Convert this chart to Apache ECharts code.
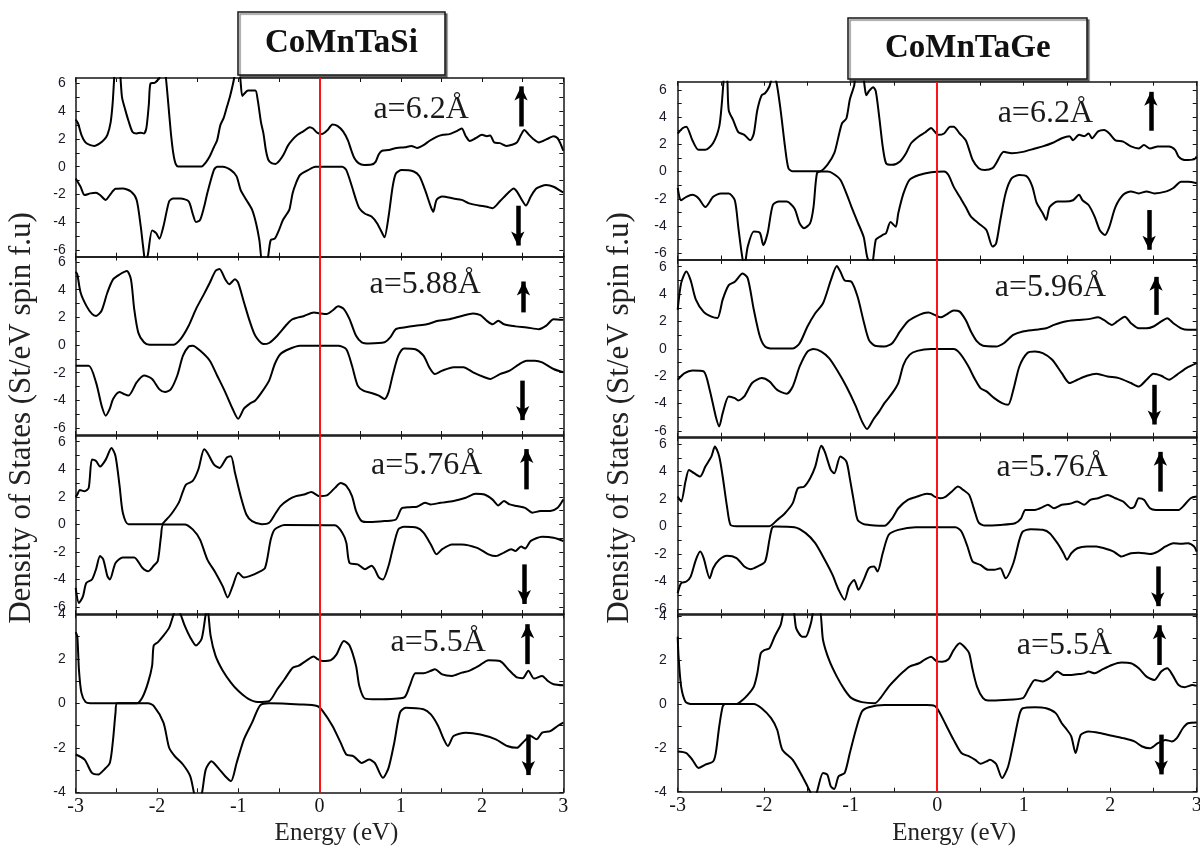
<!DOCTYPE html>
<html>
<head>
<meta charset="utf-8">
<script src="https://cdn.jsdelivr.net/npm/echarts@6/dist/echarts.min.js"></script>
<style>
  html, body { margin: 0; padding: 0; background: #fff; }
  #chart { width: 1200px; height: 854px; }
</style>
</head>
<body>
<div id="chart"></div>
<script>
// ---- Spin-resolved DOS, CoMnTaSi: [energy (eV), DOS (states/eV spin f.u.)] ----
const siA62Up = [[-3.0,3.4],[-2.97,3.1],[-2.93,2.3],[-2.88,1.75],[-2.82,1.55],[-2.77,1.5],[-2.7,1.7],[-2.65,1.95],[-2.61,2.3],[-2.57,3.2],[-2.545,4.6],[-2.525,6.5],[-2.49,9],[-2.45,6.5],[-2.43,5.0],[-2.39,4.1],[-2.35,3.3],[-2.3,2.5],[-2.25,2.4],[-2.2,2.45],[-2.16,2.4],[-2.13,2.8],[-2.1,4.5],[-2.08,6.0],[-2.03,6.05],[-2.0,6.2],[-1.97,6.4],[-1.93,8],[-1.89,6.4],[-1.86,4.5],[-1.83,2.5],[-1.8,1.0],[-1.77,0.2],[-1.74,0.02],[-1.45,0.02],[-1.4,0.3],[-1.35,0.75],[-1.3,1.4],[-1.26,1.9],[-1.22,3.0],[-1.18,3.5],[-1.14,4.3],[-1.1,5.1],[-1.05,6.4],[-1.01,8],[-0.975,6.4],[-0.95,5.1],[-0.92,5.3],[-0.88,5.5],[-0.79,5.5],[-0.76,4.8],[-0.72,3.2],[-0.69,2.4],[-0.66,1.2],[-0.63,0.5],[-0.59,0.25],[-0.54,0.2],[-0.49,0.45],[-0.44,0.9],[-0.39,1.5],[-0.34,1.9],[-0.27,2.3],[-0.2,2.55],[-0.12,2.85],[-0.08,2.75],[-0.03,2.45],[0.03,2.35],[0.1,2.65],[0.16,3.05],[0.22,2.95],[0.29,2.55],[0.35,1.9],[0.39,1.2],[0.43,0.6],[0.48,0.25],[0.55,0.12],[0.64,0.15],[0.69,0.35],[0.73,0.9],[0.77,1.15],[0.85,1.2],[0.95,1.35],[1.05,1.4],[1.13,1.5],[1.2,1.35],[1.28,1.55],[1.35,1.85],[1.44,2.15],[1.52,2.3],[1.6,2.35],[1.68,2.55],[1.75,2.75],[1.8,2.2],[1.85,1.85],[1.92,2.05],[2.0,2.3],[2.06,2.2],[2.1,2.25],[2.15,1.75],[2.22,1.7],[2.3,1.5],[2.38,1.6],[2.43,1.75],[2.48,2.3],[2.52,2.65],[2.57,2.35],[2.63,2.0],[2.7,1.75],[2.75,1.85],[2.82,2.05],[2.88,2.2],[2.93,2.05],[2.97,1.6],[3.0,1.15]];
const siA62Dn = [[-3.0,-0.85],[-2.94,-1.45],[-2.89,-2.05],[-2.82,-1.93],[-2.75,-1.88],[-2.7,-2.05],[-2.63,-2.4],[-2.58,-2.05],[-2.51,-1.6],[-2.42,-1.57],[-2.32,-1.8],[-2.25,-2.4],[-2.2,-4.3],[-2.17,-5.8],[-2.14,-7],[-2.11,-6.3],[-2.06,-4.6],[-2.01,-4.8],[-1.97,-5.2],[-1.92,-4.3],[-1.85,-2.5],[-1.8,-2.3],[-1.71,-2.3],[-1.61,-2.5],[-1.56,-3.4],[-1.52,-4.0],[-1.47,-3.85],[-1.42,-2.9],[-1.38,-1.9],[-1.3,-0.25],[-1.26,0],[-1.19,0],[-1.09,-0.25],[-1.02,-0.7],[-0.97,-1.7],[-0.9,-2.4],[-0.83,-3.1],[-0.78,-4.1],[-0.74,-5.3],[-0.7,-7],[-0.65,-7],[-0.63,-6.4],[-0.6,-5.3],[-0.55,-5.2],[-0.5,-4.6],[-0.45,-3.85],[-0.4,-3.4],[-0.37,-3.1],[-0.33,-1.9],[-0.29,-1.2],[-0.24,-0.6],[-0.14,-0.25],[-0.05,0],[0.28,0],[0.33,-0.25],[0.4,-1.45],[0.45,-2.4],[0.49,-3.0],[0.56,-3.4],[0.64,-3.6],[0.71,-4.1],[0.78,-4.9],[0.8,-5.1],[0.85,-3.6],[0.9,-1.45],[0.94,-0.5],[1.01,-0.25],[1.16,-0.35],[1.23,-0.7],[1.3,-1.7],[1.37,-2.9],[1.4,-3.25],[1.44,-2.4],[1.51,-2.15],[1.65,-2.3],[1.75,-2.4],[1.84,-2.65],[1.96,-2.8],[2.06,-2.9],[2.13,-3.0],[2.22,-2.5],[2.32,-1.9],[2.39,-1.57],[2.43,-1.8],[2.5,-2.5],[2.54,-2.8],[2.6,-2.15],[2.67,-1.57],[2.79,-1.33],[2.88,-1.45],[2.98,-1.8],[3.0,-1.85]];
const siA588Up = [[-3.0,5.3],[-2.98,5.1],[-2.94,3.8],[-2.87,2.85],[-2.8,2.25],[-2.75,2.1],[-2.68,2.5],[-2.61,3.8],[-2.54,4.75],[-2.46,5.1],[-2.37,5.35],[-2.32,4.75],[-2.28,2.6],[-2.23,0.9],[-2.16,0.2],[-2.09,0.02],[-1.8,0.02],[-1.71,0.43],[-1.61,1.4],[-1.52,2.6],[-1.42,3.7],[-1.35,4.5],[-1.28,5.35],[-1.23,5.5],[-1.16,4.75],[-1.11,4.4],[-1.04,4.75],[-1.0,4.5],[-0.93,3.1],[-0.86,1.75],[-0.79,0.67],[-0.69,0.07],[-0.62,0.15],[-0.52,0.67],[-0.4,1.5],[-0.33,1.87],[-0.19,2.1],[-0.07,2.35],[0.0,2.3],[0.09,2.25],[0.16,2.5],[0.23,2.8],[0.3,2.6],[0.37,1.87],[0.45,0.67],[0.52,0.2],[0.61,0.12],[0.8,0.2],[0.87,0.55],[0.94,1.15],[1.04,1.27],[1.18,1.4],[1.32,1.5],[1.46,1.75],[1.6,1.87],[1.75,2.1],[1.89,2.28],[1.98,2.16],[2.06,1.75],[2.13,1.5],[2.2,1.75],[2.27,1.5],[2.41,1.35],[2.55,1.27],[2.7,1.15],[2.79,1.4],[2.88,1.87],[3.0,1.82]];
const siA588Dn = [[-3.0,-1.5],[-2.84,-1.5],[-2.75,-2.7],[-2.68,-4.4],[-2.63,-5.1],[-2.58,-4.6],[-2.54,-3.9],[-2.46,-3.4],[-2.42,-3.5],[-2.35,-3.65],[-2.25,-2.7],[-2.16,-2.2],[-2.06,-2.45],[-1.97,-3.2],[-1.9,-3.4],[-1.83,-3.2],[-1.75,-2.2],[-1.68,-0.77],[-1.61,-0.1],[-1.56,-0.05],[-1.47,-0.4],[-1.35,-1.13],[-1.26,-2.2],[-1.16,-3.4],[-1.07,-4.6],[-1.0,-5.33],[-0.93,-4.6],[-0.86,-4.25],[-0.79,-4.0],[-0.71,-3.4],[-0.62,-2.57],[-0.55,-1.37],[-0.48,-0.65],[-0.38,-0.3],[-0.24,-0.05],[0.23,-0.05],[0.33,-0.3],[0.4,-1.5],[0.47,-2.93],[0.54,-3.3],[0.64,-3.46],[0.73,-3.65],[0.8,-3.9],[0.85,-3.4],[0.9,-2.2],[0.97,-0.77],[1.04,-0.24],[1.18,-0.3],[1.28,-0.77],[1.35,-1.6],[1.42,-2.1],[1.51,-1.85],[1.65,-1.6],[1.77,-1.6],[1.89,-1.97],[2.03,-2.33],[2.1,-2.45],[2.22,-2.1],[2.34,-1.85],[2.46,-1.37],[2.55,-1.13],[2.65,-1.13],[2.74,-1.25],[2.88,-1.73],[3.0,-1.97]];
const siA576Up = [[-3.0,2.0],[-2.98,2.17],[-2.95,2.5],[-2.89,2.4],[-2.84,2.65],[-2.8,4.7],[-2.75,4.6],[-2.7,4.2],[-2.63,4.7],[-2.56,5.55],[-2.51,4.95],[-2.46,2.8],[-2.42,0.85],[-2.35,0.02],[-1.94,0.02],[-1.9,0.25],[-1.83,0.7],[-1.73,1.6],[-1.68,2.4],[-1.64,2.9],[-1.56,3.15],[-1.49,4.0],[-1.42,5.45],[-1.38,5.2],[-1.3,4.35],[-1.23,4.1],[-1.14,4.85],[-1.09,4.95],[-1.04,3.75],[-0.97,2.05],[-0.9,0.72],[-0.83,0.24],[-0.71,0.02],[-0.62,0.12],[-0.55,0.72],[-0.48,1.33],[-0.38,1.8],[-0.29,2.05],[-0.19,2.17],[-0.1,2.35],[0.0,2.05],[0.09,2.1],[0.19,2.65],[0.26,3.0],[0.33,2.8],[0.4,2.05],[0.45,0.97],[0.52,0.24],[0.61,0.17],[0.8,0.24],[0.94,0.36],[1.01,1.16],[1.11,1.25],[1.2,1.28],[1.3,1.57],[1.37,1.45],[1.49,1.57],[1.65,1.7],[1.8,1.93],[1.92,2.22],[2.03,2.17],[2.13,1.8],[2.2,1.38],[2.27,1.7],[2.34,1.45],[2.43,1.33],[2.53,1.2],[2.62,0.85],[2.72,0.97],[2.84,0.97],[2.93,1.2],[3.0,1.8]];
const siA576Dn = [[-3.0,-4.6],[-2.96,-5.7],[-2.91,-5.2],[-2.87,-4.25],[-2.8,-4.0],[-2.75,-3.25],[-2.7,-2.3],[-2.66,-2.55],[-2.61,-3.75],[-2.58,-4.0],[-2.51,-2.8],[-2.42,-2.4],[-2.28,-2.4],[-2.18,-3.15],[-2.11,-3.4],[-2.04,-3.0],[-1.99,-2.65],[-1.95,-0.85],[-1.92,0],[-1.66,0],[-1.56,-0.36],[-1.47,-1.1],[-1.38,-2.55],[-1.28,-3.5],[-1.19,-4.5],[-1.13,-5.3],[-1.07,-4.5],[-1.0,-3.5],[-0.93,-3.85],[-0.86,-3.75],[-0.76,-3.5],[-0.67,-3.15],[-0.6,-1.1],[-0.55,-0.36],[-0.43,-0.05],[0.19,-0.07],[0.28,-0.6],[0.33,-1.33],[0.37,-2.8],[0.47,-2.9],[0.56,-3.25],[0.64,-3.0],[0.68,-3.25],[0.73,-3.85],[0.78,-4.0],[0.85,-3.0],[0.9,-1.8],[0.97,-0.36],[1.04,-0.17],[1.2,-0.24],[1.28,-0.6],[1.37,-1.45],[1.44,-2.17],[1.51,-1.8],[1.63,-1.45],[1.75,-1.45],[1.94,-1.7],[2.08,-2.17],[2.17,-2.3],[2.27,-2.05],[2.36,-1.8],[2.41,-1.93],[2.48,-1.6],[2.53,-1.75],[2.6,-1.2],[2.74,-0.9],[2.88,-0.97],[3.0,-1.2]];
const siA55Up = [[-3.0,3.2],[-2.98,3.0],[-2.96,1.5],[-2.93,0.48],[-2.88,0.06],[-2.82,0],[-2.25,0],[-2.18,0.26],[-2.11,0.93],[-2.06,1.68],[-2.04,2.6],[-1.99,2.74],[-1.92,3.04],[-1.85,3.4],[-1.8,3.94],[-1.76,4.3],[-1.71,4.0],[-1.66,3.5],[-1.59,2.96],[-1.52,2.6],[-1.45,2.9],[-1.4,4.0],[-1.38,4.3],[-1.34,3.04],[-1.28,2.14],[-1.19,1.46],[-1.09,0.93],[-1.0,0.56],[-0.88,0.21],[-0.76,0.06],[-0.62,0.1],[-0.52,0.63],[-0.43,1.08],[-0.33,1.6],[-0.26,1.68],[-0.17,1.9],[-0.07,2.1],[-0.03,2.0],[0.04,1.9],[0.14,1.94],[0.21,2.2],[0.3,2.8],[0.37,2.6],[0.45,1.68],[0.49,0.78],[0.56,0.21],[0.71,0.18],[1.04,0.26],[1.11,0.78],[1.18,1.35],[1.28,1.35],[1.37,1.46],[1.42,1.53],[1.51,1.3],[1.63,1.23],[1.75,1.38],[1.84,1.46],[1.96,1.68],[2.08,1.94],[2.22,1.9],[2.34,1.46],[2.43,1.16],[2.5,1.13],[2.57,1.46],[2.64,1.11],[2.74,1.23],[2.81,1.0],[2.88,0.86],[3.0,0.81]];
const siA55Dn = [[-3.0,-2.3],[-2.89,-2.53],[-2.8,-3.13],[-2.72,-3.2],[-2.65,-2.98],[-2.58,-2.68],[-2.54,-1.62],[-2.51,-0.42],[-2.49,0],[-2.11,0],[-2.04,-0.12],[-1.92,-0.87],[-1.85,-2.0],[-1.78,-2.38],[-1.68,-2.75],[-1.59,-3.28],[-1.54,-4.1],[-1.5,-4.5],[-1.45,-4.1],[-1.4,-2.98],[-1.33,-2.6],[-1.23,-2.98],[-1.16,-3.28],[-1.09,-3.5],[-1.02,-2.68],[-0.93,-1.62],[-0.83,-0.87],[-0.73,-0.09],[-0.62,0],[-0.24,-0.05],[-0.03,-0.12],[0.04,-0.35],[0.16,-1.02],[0.26,-1.77],[0.33,-2.3],[0.42,-2.38],[0.52,-2.68],[0.61,-2.53],[0.68,-2.68],[0.78,-3.35],[0.85,-2.9],[0.92,-1.77],[0.99,-0.42],[1.06,-0.2],[1.28,-0.27],[1.37,-0.5],[1.46,-1.02],[1.53,-1.62],[1.58,-1.92],[1.65,-1.47],[1.8,-1.32],[1.98,-1.4],[2.17,-1.62],[2.31,-1.92],[2.43,-2.0],[2.5,-1.77],[2.6,-1.47],[2.67,-1.62],[2.74,-1.32],[2.84,-1.25],[2.93,-1.02],[3.0,-0.87]];

// ---- Spin-resolved DOS, CoMnTaGe ----
const geA62Up = [[-3.0,2.8],[-2.94,3.2],[-2.9,3.3],[-2.83,2.3],[-2.76,1.6],[-2.68,1.6],[-2.59,2.1],[-2.52,3.3],[-2.49,5.0],[-2.465,7],[-2.44,8],[-2.425,6.6],[-2.41,4.5],[-2.36,3.8],[-2.3,2.9],[-2.23,2.7],[-2.16,2.3],[-2.12,2.8],[-2.08,4.5],[-2.03,5.6],[-1.99,5.75],[-1.94,6.25],[-1.9,7],[-1.86,6.6],[-1.81,4.5],[-1.76,1.85],[-1.72,0.25],[-1.67,0.02],[-1.36,0.02],[-1.27,0.5],[-1.19,1.35],[-1.14,2.6],[-1.1,3.55],[-1.05,3.9],[-1.01,5.3],[-0.96,6.3],[-0.94,7],[-0.86,7],[-0.84,6.3],[-0.82,5.6],[-0.79,5.9],[-0.74,6.2],[-0.71,5.9],[-0.67,4.0],[-0.63,1.85],[-0.59,0.6],[-0.52,0.5],[-0.43,0.75],[-0.36,1.35],[-0.3,2.1],[-0.21,2.6],[-0.14,2.87],[-0.07,3.2],[-0.03,2.95],[0.01,2.7],[0.08,2.8],[0.15,3.3],[0.19,3.3],[0.26,2.8],[0.33,2.3],[0.37,1.6],[0.41,0.85],[0.48,0.25],[0.55,0.12],[0.64,0.25],[0.68,0.6],[0.77,1.45],[0.86,1.35],[0.99,1.45],[1.13,1.7],[1.22,1.85],[1.33,2.1],[1.44,2.45],[1.53,2.6],[1.57,2.3],[1.64,2.7],[1.7,2.6],[1.75,2.8],[1.79,2.45],[1.86,2.95],[1.93,3.05],[1.99,2.8],[2.06,2.3],[2.15,2.2],[2.24,1.85],[2.33,1.7],[2.39,1.95],[2.46,1.7],[2.55,1.85],[2.68,1.85],[2.75,1.6],[2.79,1.1],[2.86,0.85],[2.97,0.9],[3.0,1.1]];
const geA62Dn = [[-3.0,-1.2],[-2.96,-2.1],[-2.9,-1.85],[-2.83,-1.7],[-2.76,-1.95],[-2.68,-2.6],[-2.59,-1.85],[-2.5,-1.6],[-2.41,-1.6],[-2.34,-2.1],[-2.3,-4.05],[-2.26,-6.0],[-2.23,-7],[-2.19,-5.5],[-2.12,-4.4],[-2.05,-4.5],[-2.01,-5.4],[-1.96,-4.5],[-1.9,-2.45],[-1.83,-2.2],[-1.74,-2.2],[-1.65,-2.7],[-1.59,-3.8],[-1.54,-4.15],[-1.47,-3.8],[-1.43,-2.6],[-1.39,-0.12],[-1.34,0],[-1.27,0],[-1.21,-0.12],[-1.12,-0.6],[-1.05,-1.6],[-0.99,-2.6],[-0.92,-3.7],[-0.85,-4.8],[-0.81,-6.25],[-0.76,-7],[-0.71,-5.0],[-0.67,-4.8],[-0.63,-4.65],[-0.59,-4.5],[-0.54,-3.7],[-0.48,-4.05],[-0.45,-3.05],[-0.39,-1.6],[-0.32,-0.6],[-0.21,-0.25],[-0.07,-0.05],[0.08,0],[0.13,-0.25],[0.19,-1.1],[0.26,-1.85],[0.33,-2.6],[0.39,-3.3],[0.48,-3.8],[0.57,-4.3],[0.64,-5.5],[0.68,-5.3],[0.73,-3.55],[0.79,-1.6],[0.86,-0.5],[0.95,-0.25],[1.04,-0.37],[1.1,-1.1],[1.15,-2.3],[1.22,-3.05],[1.26,-3.55],[1.3,-2.6],[1.39,-2.2],[1.48,-2.2],[1.57,-2.1],[1.64,-1.7],[1.68,-2.1],[1.75,-2.45],[1.82,-3.3],[1.88,-4.3],[1.94,-4.65],[1.99,-4.05],[2.06,-2.6],[2.15,-1.7],[2.24,-1.45],[2.33,-1.6],[2.42,-1.45],[2.51,-1.6],[2.65,-1.45],[2.73,-1.2],[2.82,-0.75],[2.9,-0.75],[3.0,-0.85]];
const geA596Up = [[-3.0,2.85],[-2.96,4.8],[-2.9,5.65],[-2.85,5.0],[-2.79,3.6],[-2.7,2.7],[-2.61,2.35],[-2.54,2.25],[-2.48,3.6],[-2.41,4.65],[-2.34,4.9],[-2.25,5.5],[-2.19,5.15],[-2.12,2.85],[-2.05,0.9],[-1.99,0.17],[-1.9,0.02],[-1.67,0.02],[-1.59,0.41],[-1.5,1.63],[-1.41,2.6],[-1.32,3.33],[-1.23,5.0],[-1.16,6.05],[-1.12,5.65],[-1.07,5.0],[-0.99,4.9],[-0.92,3.8],[-0.85,2.0],[-0.79,0.66],[-0.72,0.22],[-0.61,0.17],[-0.52,0.41],[-0.43,1.27],[-0.34,2.0],[-0.25,2.35],[-0.16,2.6],[-0.1,2.65],[-0.03,2.48],[0.04,2.3],[0.1,2.48],[0.19,2.8],[0.26,2.72],[0.33,2.1],[0.39,1.27],[0.46,0.54],[0.53,0.22],[0.68,0.17],[0.77,0.41],[0.88,1.02],[0.99,1.27],[1.13,1.39],[1.26,1.5],[1.35,1.75],[1.48,2.0],[1.62,2.1],[1.75,2.17],[1.86,2.3],[1.93,2.1],[2.02,1.75],[2.08,2.0],[2.17,2.35],[2.24,1.87],[2.33,1.5],[2.42,1.5],[2.5,1.63],[2.59,2.0],[2.66,2.24],[2.73,1.87],[2.82,1.5],[2.9,1.39],[3.0,1.39]];
const geA596Dn = [[-3.0,-2.26],[-2.92,-1.78],[-2.83,-1.58],[-2.7,-1.65],[-2.63,-3.0],[-2.56,-4.94],[-2.52,-5.67],[-2.48,-4.7],[-2.41,-3.48],[-2.34,-3.6],[-2.3,-3.77],[-2.23,-3.48],[-2.14,-2.5],[-2.03,-2.14],[-1.94,-2.38],[-1.85,-3.0],[-1.74,-3.28],[-1.67,-2.75],[-1.59,-1.29],[-1.5,-0.2],[-1.43,-0.02],[-1.34,-0.2],[-1.25,-0.68],[-1.16,-1.53],[-1.05,-2.75],[-0.94,-4.2],[-0.87,-5.3],[-0.81,-5.86],[-0.74,-5.18],[-0.67,-4.57],[-0.61,-3.97],[-0.52,-3.24],[-0.45,-2.5],[-0.39,-1.17],[-0.32,-0.44],[-0.23,-0.15],[-0.07,-0.02],[0.19,-0.02],[0.26,-0.32],[0.35,-1.17],[0.44,-2.26],[0.5,-2.87],[0.57,-3.11],[0.66,-3.6],[0.75,-3.97],[0.82,-4.09],[0.88,-3.0],[0.95,-1.29],[1.04,-0.32],[1.13,-0.2],[1.22,-0.32],[1.33,-0.8],[1.44,-1.78],[1.53,-2.5],[1.62,-2.26],[1.73,-1.97],[1.84,-1.82],[1.97,-2.02],[2.1,-2.14],[2.24,-2.5],[2.33,-2.75],[2.42,-2.26],[2.5,-1.82],[2.59,-1.97],[2.68,-2.26],[2.77,-1.9],[2.88,-1.41],[3.0,-1.05]];
const geA576Up = [[-3.0,2.18],[-2.96,1.82],[-2.91,3.27],[-2.87,4.12],[-2.81,3.88],[-2.74,3.64],[-2.68,4.36],[-2.61,5.1],[-2.57,5.82],[-2.52,5.1],[-2.48,3.64],[-2.43,1.45],[-2.39,0.12],[-2.32,0.03],[-1.94,0.03],[-1.85,0.48],[-1.76,0.97],[-1.67,1.7],[-1.61,2.79],[-1.54,2.9],[-1.47,3.5],[-1.41,4.36],[-1.34,5.87],[-1.3,5.45],[-1.23,4.12],[-1.19,3.88],[-1.12,5.1],[-1.05,4.73],[-1.01,3.5],[-0.96,1.7],[-0.92,0.48],[-0.85,0.17],[-0.79,0.12],[-0.61,0.05],[-0.52,0.6],[-0.45,1.33],[-0.34,1.94],[-0.23,2.18],[-0.12,2.38],[-0.07,2.35],[-0.03,2.18],[0.04,2.06],[0.1,2.18],[0.17,2.55],[0.24,2.91],[0.3,2.67],[0.37,2.3],[0.44,0.97],[0.48,0.29],[0.55,0.07],[0.73,0.12],[0.9,0.24],[0.97,0.6],[1.02,1.21],[1.13,1.21],[1.22,1.41],[1.28,1.58],[1.35,1.33],[1.44,1.58],[1.53,1.65],[1.62,1.82],[1.7,1.58],[1.77,1.94],[1.86,2.06],[1.97,2.3],[2.06,2.06],[2.15,1.82],[2.24,1.33],[2.28,1.45],[2.33,2.06],[2.39,1.94],[2.46,1.33],[2.53,1.21],[2.62,1.21],[2.71,1.21],[2.79,1.21],[2.86,1.58],[2.93,2.06],[3.0,2.18]];
const geA576Dn = [[-3.0,-4.85],[-2.96,-4.12],[-2.9,-4.0],[-2.85,-3.64],[-2.79,-2.42],[-2.74,-1.82],[-2.7,-2.3],[-2.63,-3.76],[-2.59,-3.03],[-2.52,-2.42],[-2.43,-2.13],[-2.32,-2.3],[-2.23,-2.91],[-2.16,-3.1],[-2.08,-2.91],[-1.99,-2.55],[-1.94,-0.97],[-1.91,-0.12],[-1.88,0],[-1.65,-0.05],[-1.52,-0.48],[-1.41,-1.21],[-1.3,-2.42],[-1.21,-3.52],[-1.14,-4.6],[-1.07,-5.33],[-1.02,-4.36],[-0.96,-3.88],[-0.91,-4.6],[-0.85,-3.88],[-0.79,-3.03],[-0.73,-2.91],[-0.69,-3.27],[-0.63,-1.94],[-0.56,-0.6],[-0.45,-0.24],[-0.25,-0.05],[0.21,-0.05],[0.28,-0.36],[0.35,-1.45],[0.41,-2.55],[0.5,-2.79],[0.59,-3.15],[0.66,-3.15],[0.73,-3.03],[0.79,-3.76],[0.88,-2.67],[0.95,-0.97],[0.99,-0.36],[1.08,-0.19],[1.22,-0.24],[1.3,-0.48],[1.39,-1.21],[1.46,-1.94],[1.5,-2.42],[1.55,-1.94],[1.62,-1.58],[1.73,-1.45],[1.84,-1.45],[1.93,-1.58],[2.04,-1.82],[2.13,-2.18],[2.24,-1.94],[2.33,-1.9],[2.46,-2.0],[2.55,-1.82],[2.64,-1.45],[2.73,-1.21],[2.82,-1.26],[2.9,-1.21],[2.97,-1.45],[3.0,-1.82]];
const geA55Up = [[-3.0,3.06],[-2.99,2.15],[-2.96,0.79],[-2.91,0.1],[-2.85,0],[-2.32,0],[-2.25,0.18],[-2.19,0.41],[-2.12,0.79],[-2.08,1.39],[-2.04,2.3],[-2.0,2.45],[-1.94,2.53],[-1.88,3.06],[-1.81,3.6],[-1.76,4.3],[-1.67,4.3],[-1.63,3.44],[-1.56,3.06],[-1.52,3.06],[-1.46,3.67],[-1.42,4.3],[-1.36,4.3],[-1.32,2.91],[-1.25,2.0],[-1.16,1.24],[-1.07,0.64],[-0.99,0.26],[-0.87,0.08],[-0.72,0.03],[-0.65,0.3],[-0.56,0.79],[-0.47,1.17],[-0.39,1.47],[-0.32,1.7],[-0.21,1.85],[-0.14,2.03],[-0.07,2.15],[-0.01,1.95],[0.06,1.92],[0.13,2.03],[0.19,2.45],[0.26,2.76],[0.33,2.53],[0.37,2.3],[0.41,1.55],[0.46,0.79],[0.53,0.26],[0.59,0.15],[0.77,0.18],[0.99,0.26],[1.06,0.71],[1.13,1.09],[1.22,1.02],[1.3,1.17],[1.39,1.47],[1.46,1.32],[1.55,1.32],[1.64,1.36],[1.7,1.39],[1.75,1.47],[1.82,1.39],[1.9,1.55],[2.02,1.77],[2.13,1.88],[2.24,1.85],[2.33,1.62],[2.42,1.24],[2.51,1.09],[2.59,1.47],[2.66,1.62],[2.72,1.32],[2.79,0.86],[2.86,0.76],[2.95,0.86],[3.0,0.82]];
const geA55Dn = [[-3.0,-2.17],[-2.9,-2.24],[-2.83,-2.55],[-2.76,-2.92],[-2.68,-2.77],[-2.59,-2.62],[-2.56,-2.24],[-2.52,-1.03],[-2.48,-0.12],[-2.45,0],[-2.12,0],[-2.03,-0.2],[-1.92,-0.65],[-1.85,-1.18],[-1.79,-2.09],[-1.67,-2.55],[-1.56,-3.3],[-1.47,-4.0],[-1.43,-4.4],[-1.39,-4.0],[-1.32,-3.15],[-1.27,-3.23],[-1.23,-3.76],[-1.19,-3.88],[-1.14,-3.3],[-1.07,-3.15],[-1.01,-2.24],[-0.94,-1.18],[-0.87,-0.35],[-0.79,-0.15],[-0.61,-0.05],[-0.12,-0.05],[-0.03,-0.09],[0.01,-0.27],[0.1,-0.95],[0.19,-1.64],[0.28,-2.24],[0.37,-2.39],[0.44,-2.55],[0.5,-2.73],[0.57,-2.62],[0.61,-2.55],[0.68,-2.73],[0.75,-3.38],[0.82,-2.85],[0.88,-1.79],[0.95,-0.5],[0.99,-0.2],[1.13,-0.15],[1.26,-0.2],[1.37,-0.42],[1.44,-0.88],[1.5,-1.18],[1.55,-1.48],[1.6,-2.24],[1.66,-1.41],[1.75,-1.26],[1.88,-1.33],[2.02,-1.45],[2.15,-1.56],[2.28,-1.71],[2.37,-1.94],[2.46,-2.02],[2.55,-1.79],[2.64,-1.64],[2.71,-1.71],[2.77,-1.56],[2.84,-1.11],[2.9,-0.88],[3.0,-0.85]];

// ---- Panel annotations ----
const compounds = ['CoMnTaSi', 'CoMnTaGe'];
const siLattice = ['a=6.2Å', 'a=5.88Å', 'a=5.76Å', 'a=5.5Å'];
const geLattice = ['a=6.2Å', 'a=5.96Å', 'a=5.76Å', 'a=5.5Å'];
// [energy, DOS] where each lattice label is centred
const siLabelAt = [[1.25, 4.1], [1.30, 4.4], [1.32, 4.27], [1.46, 2.75]];
const geLabelAt = [[1.25, 4.24], [1.31, 4.45], [1.33, 4.27], [1.47, 2.64]];
// spin arrows: [energy, tail, tip] for majority (up) and minority (down)
const siSpinUp = [[2.48, 2.9, 6.3], [2.51, 2.36, 5.1], [2.55, 2.54, 5.97], [2.56, 1.76, 3.87]];
const siSpinDn = [[2.44, -2.82, -6.2], [2.50, -2.57, -5.93], [2.52, -2.9, -6.28], [2.57, -1.40, -3.54]];
const geSpinUp = [[2.47, 3.0, 6.37], [2.53, 2.48, 5.77], [2.58, 2.54, 5.94], [2.57, 1.77, 3.9]];
const geSpinDn = [[2.45, -2.82, -6.25], [2.51, -2.63, -6.04], [2.55, -2.9, -6.3], [2.59, -1.4, -3.53]];
// DOS axis ranges for the four stacked frames
const siYRange = [[-6.5, 6.4], [-6.5, 6.4], [-6.5, 6.45], [-4, 4]];
const geYRange = [[-6.45, 6.6], [-6.42, 6.49], [-6.31, 6.49], [-4, 4.08]];
const energyRange = [-3, 3];

const panels = [
  { up: [siA62Up, siA588Up, siA576Up, siA55Up], dn: [siA62Dn, siA588Dn, siA576Dn, siA55Dn],
    lattice: siLattice, labelAt: siLabelAt, spinUp: siSpinUp, spinDn: siSpinDn, yRange: siYRange },
  { up: [geA62Up, geA596Up, geA576Up, geA55Up], dn: [geA62Dn, geA596Dn, geA576Dn, geA55Dn],
    lattice: geLattice, labelAt: geLabelAt, spinUp: geSpinUp, spinDn: geSpinDn, yRange: geYRange }
];

// ---- Layout (pixels) ----
const layout = [
  { left: 75.7, width: 487.6, tops: [78, 256.5, 435.5, 614.3], bottoms: [256.7, 435, 614, 792.3], labelMargin: 10 },
  { left: 677.7, width: 519, tops: [81.7, 260, 437.3, 614.3], bottoms: [259.5, 436.7, 613.3, 791.7], labelMargin: 11 }
];

const INK = '#141414';
const SERIF = '"Liberation Serif", "Times New Roman", serif';
const SANS = '"Liberation Sans", Arial, sans-serif';
const HEAD = 14; // arrow head length in px

const grids = [], xAxes = [], yAxes = [], series = [];

panels.forEach((p, pi) => {
  const lay = layout[pi];
  p.up.forEach((upData, ri) => {
    const gi = grids.length;
    const top = lay.tops[ri], height = lay.bottoms[ri] - lay.tops[ri];
    const [ymin, ymax] = p.yRange[ri];
    const isBottom = ri === p.up.length - 1;
    grids.push({ left: lay.left, top: top, width: lay.width, height: height,
                 containLabel: false, outerBoundsMode: 'none', show: false });

    const ints = [];
    for (let v = Math.ceil(ymin); v <= Math.floor(ymax); v++) ints.push(v);
    const evens = ints.filter(v => v % 2 === 0);

    const xBase = {
      type: 'value', gridIndex: gi, min: energyRange[0], max: energyRange[1], interval: 0.5,
      splitLine: { show: false },
      axisLine: { show: true, onZero: false, lineStyle: { color: INK, width: 1.5 } },
      axisTick: { show: true, inside: true, length: 4, lineStyle: { color: INK, width: 1 } }
    };
    xAxes.push(Object.assign({}, xBase, {
      position: 'bottom',
      axisLabel: { show: isBottom, margin: 4, fontFamily: SERIF, fontSize: 20, color: INK,
                   formatter: v => (Math.abs(v - Math.round(v)) < 1e-9 ? String(Math.round(v)) : '') },
      name: isBottom ? 'Energy (eV)' : '', nameLocation: 'middle', nameGap: 29,
      nameTextStyle: { fontFamily: SERIF, fontSize: 25, color: '#222', padding: [0, 0, 0, 34] }
    }));
    xAxes.push(Object.assign({}, xBase, { position: 'top', axisLabel: { show: false } }));

    const yBase = {
      type: 'value', gridIndex: gi, min: ymin, max: ymax,
      splitLine: { show: false },
      axisLine: { show: true, onZero: false, lineStyle: { color: INK, width: 1.5 } },
      axisTick: { show: true, inside: true, length: 4, customValues: ints, lineStyle: { color: INK, width: 1 } }
    };
    yAxes.push(Object.assign({}, yBase, {
      position: 'left',
      axisLabel: { show: true, customValues: evens, margin: lay.labelMargin,
                   fontFamily: SANS, fontSize: 14, color: '#1a1a28' }
    }));
    yAxes.push(Object.assign({}, yBase, { position: 'right', axisLabel: { show: false } }));

    const xi = 2 * gi, yi = 2 * gi;
    const pxPerUnit = height / (ymax - ymin);
    const shaft = (a, dir) => [
      { coord: [a[0], a[1]], symbol: 'none' },
      { coord: [a[0], a[2] - dir * (HEAD / 2) / pxPerUnit], symbol: 'arrow', symbolSize: [10, HEAD] }
    ];

    series.push({
      type: 'line', xAxisIndex: xi, yAxisIndex: yi, data: upData,
      showSymbol: false, symbol: 'none', smooth: 0.25, clip: true,
      lineStyle: { color: '#000', width: 2 },
      markLine: {
        silent: true, symbol: ['none', 'none'], label: { show: false },
        lineStyle: { color: '#ff1414', width: 2, type: 'solid' },
        emphasis: { disabled: true },
        data: [{ xAxis: 0 }]
      },
      markPoint: {
        silent: true, symbol: 'rect', symbolSize: 1, itemStyle: { color: 'rgba(0,0,0,0)' },
        label: { show: true, position: 'inside', formatter: '{b}', fontFamily: SERIF, fontSize: 32, color: '#1a1a1a' },
        data: [{ name: p.lattice[ri], coord: p.labelAt[ri] }]
      }
    });
    series.push({
      type: 'line', xAxisIndex: xi, yAxisIndex: yi, data: p.dn[ri],
      showSymbol: false, symbol: 'none', smooth: 0.25, clip: true,
      lineStyle: { color: '#000', width: 2 },
      markLine: {
        silent: true, symbol: ['none', 'arrow'], label: { show: false },
        lineStyle: { color: '#000', width: 4.5, type: 'solid' },
        emphasis: { disabled: true },
        data: [shaft(p.spinUp[ri], 1), shaft(p.spinDn[ri], -1)]
      }
    });
  });
});

const titleBase = {
  borderWidth: 1.5, borderColor: INK, backgroundColor: '#fff',
  shadowColor: 'rgba(0,0,0,0.45)', shadowOffsetX: 2, shadowOffsetY: 2, shadowBlur: 1,
  textStyle: { fontFamily: SERIF, fontWeight: 'bold', fontSize: 33, color: '#111' }
};

const yName = 'Density of States (St/eV spin f.u)';
const yNameText = (x) => ({
  type: 'text', x: x, y: 418, rotation: Math.PI / 2, silent: true,
  style: { text: yName, fontFamily: SERIF, fontSize: 31, fill: '#222',
           textAlign: 'center', textVerticalAlign: 'middle', align: 'center', verticalAlign: 'middle' }
});

const chart = echarts.init(document.getElementById('chart'), null, { renderer: 'canvas' });
chart.setOption({
  backgroundColor: '#fff',
  animation: false,
  title: [
    Object.assign({}, titleBase, { text: compounds[0], left: 238, top: 12, padding: [15, 27] }),
    Object.assign({}, titleBase, { text: compounds[1], left: 848, top: 18, padding: [14, 37] })
  ],
  grid: grids,
  xAxis: xAxes,
  yAxis: yAxes,
  series: series,
  graphic: [yNameText(22), yNameText(620)]
});
</script>
</body>
